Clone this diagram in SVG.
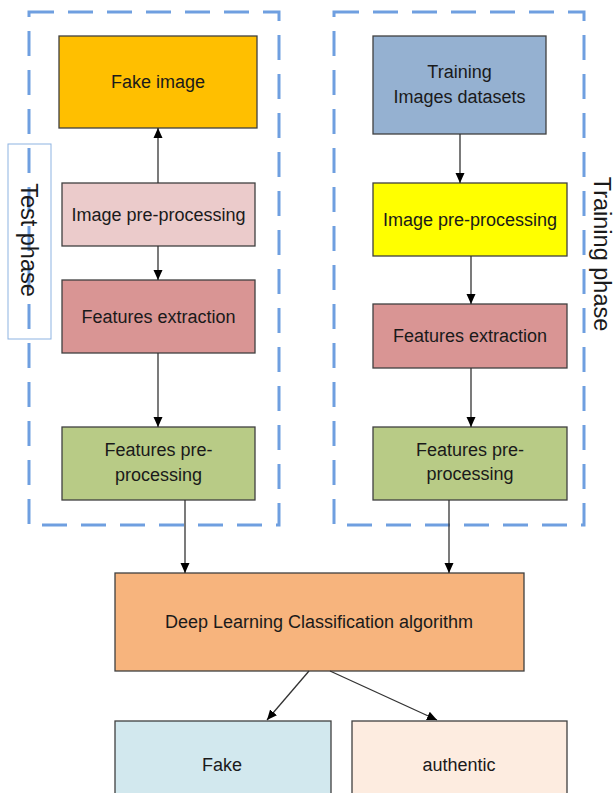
<svg xmlns="http://www.w3.org/2000/svg" width="615" height="793" viewBox="0 0 615 793">
  <style>
    .node rect { stroke: #404040; stroke-width: 1.3; }
    .node text { font-family: "Liberation Sans", Arial, sans-serif; font-size: 18px; fill: #1a1a1a; text-anchor: middle; }
    .phase text { font-family: "Liberation Sans", Arial, sans-serif; font-size: 23.5px; fill: #1a1a1a; text-anchor: middle; }
    .frame { fill: none; stroke: #6F9FE0; stroke-width: 3; stroke-dasharray: 25 14; }
    .edge { stroke: #333333; stroke-width: 1.3; fill: none; marker-end: url(#arrow); }
  </style>
  <defs>
    <marker id="arrow" viewBox="0 0 10 10" refX="10" refY="5" markerWidth="10" markerHeight="10" markerUnits="userSpaceOnUse" orient="auto">
      <path d="M0,0.5 L10,5 L0,9.5 z" fill="#000000"/>
    </marker>
  </defs>

  <rect width="615" height="793" fill="#ffffff"/>

  <!-- phase frames -->
  <g id="test-phase">
    <rect x="8" y="144" width="43" height="195" fill="#ffffff" stroke="#8DB3E2" stroke-width="1"/>
    <rect class="frame" x="29" y="12" width="250" height="513"/>
    <g class="phase"><text transform="translate(21,240) rotate(90)">Test phase</text></g>
  </g>
  <g id="training-phase">
    <rect class="frame" x="334" y="12" width="250" height="513"/>
    <g class="phase"><text transform="translate(594,254) rotate(90)">Training phase</text></g>
  </g>

  <!-- test branch -->
  <g id="fake-image" class="node">
    <rect x="59" y="36" width="198" height="92" fill="#FFBF00"/>
    <text x="158" y="88">Fake image</text>
  </g>
  <g id="test-preprocessing" class="node">
    <rect x="62" y="183" width="193" height="63" fill="#EBCBCB"/>
    <text x="158.5" y="221">Image pre-processing</text>
  </g>
  <g id="test-extraction" class="node">
    <rect x="62" y="280" width="193" height="73" fill="#D99594"/>
    <text x="158.5" y="323">Features extraction</text>
  </g>
  <g id="test-feature-prep" class="node">
    <rect x="62" y="427" width="193" height="73" fill="#B8CB86"/>
    <text x="158.5" y="456">Features pre-</text>
    <text x="158.5" y="481">processing</text>
  </g>

  <!-- training branch -->
  <g id="training-datasets" class="node">
    <rect x="373" y="36" width="173" height="98" fill="#95B1D1"/>
    <text x="459.5" y="78">Training</text>
    <text x="459.5" y="103">Images datasets</text>
  </g>
  <g id="train-preprocessing" class="node">
    <rect x="373" y="183" width="194" height="73" fill="#FFFF00"/>
    <text x="470" y="226">Image pre-processing</text>
  </g>
  <g id="train-extraction" class="node">
    <rect x="373" y="304" width="194" height="64" fill="#D99594"/>
    <text x="470" y="342">Features extraction</text>
  </g>
  <g id="train-feature-prep" class="node">
    <rect x="373" y="427" width="194" height="73" fill="#B8CB86"/>
    <text x="470" y="456">Features pre-</text>
    <text x="470" y="480">processing</text>
  </g>

  <!-- classifier and outcomes -->
  <g id="classifier" class="node">
    <rect x="115" y="573" width="409" height="98" fill="#F7B47D"/>
    <text x="319" y="628">Deep Learning Classification algorithm</text>
  </g>
  <g id="fake" class="node">
    <rect x="115" y="721" width="216" height="90" fill="#D2E8EE"/>
    <text x="222" y="771">Fake</text>
  </g>
  <g id="authentic" class="node">
    <rect x="352" y="721" width="215" height="90" fill="#FDECE0"/>
    <text x="459" y="771">authentic</text>
  </g>

  <!-- connectors -->
  <g id="connectors">
    <line class="edge" x1="158" y1="183" x2="158" y2="128"/>
    <line class="edge" x1="158" y1="246" x2="158" y2="280"/>
    <line class="edge" x1="158" y1="353" x2="158" y2="427"/>
    <line class="edge" x1="185" y1="500" x2="185" y2="573"/>
    <line class="edge" x1="460" y1="134" x2="460" y2="183"/>
    <line class="edge" x1="471" y1="256" x2="471" y2="304"/>
    <line class="edge" x1="471" y1="368" x2="471" y2="427"/>
    <line class="edge" x1="449" y1="500" x2="449" y2="573"/>
    <line class="edge" x1="309" y1="671" x2="267" y2="720"/>
    <line class="edge" x1="330" y1="671" x2="437" y2="720"/>
  </g>
</svg>
